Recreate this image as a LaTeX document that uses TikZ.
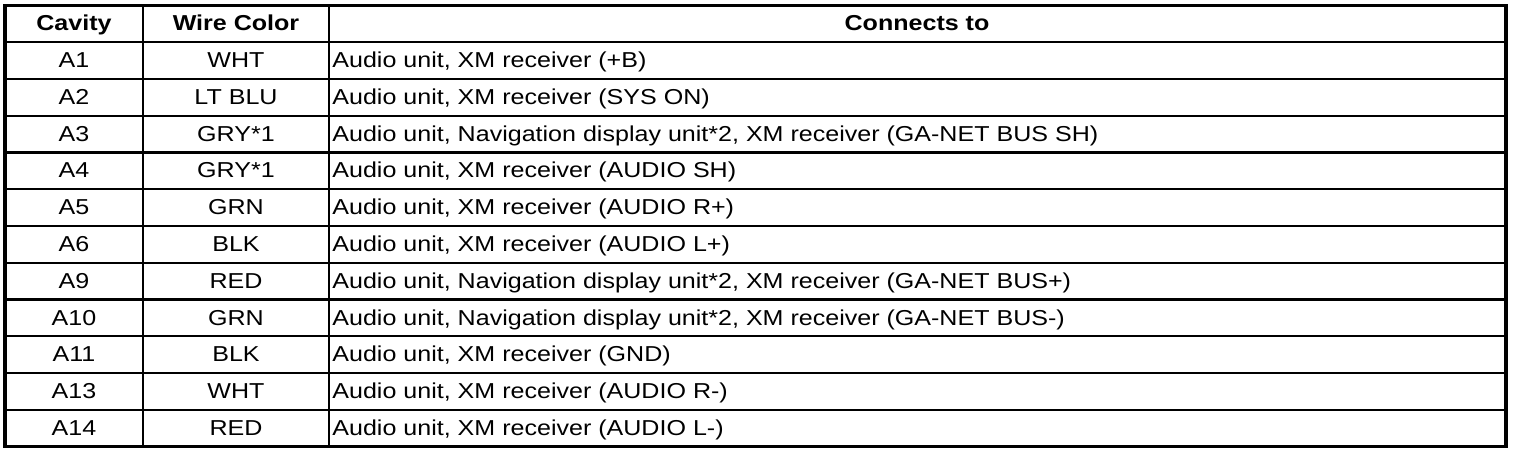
\documentclass[tikz,border=0pt]{standalone}
\usepackage{fontspec}
\setmainfont{Liberation Sans}[FakeStretch=1.16]
\usetikzlibrary{positioning}

\begin{document}
\begin{tikzpicture}[x=0.5pt, y=-0.5pt, font=\fontsize{10.8}{13}\selectfont,
    cell/.style={inner sep=0pt, anchor=base},
    entry/.style={inner sep=0pt, anchor=base west},
    head/.style={cell, font=\fontsize{10.8}{13}\selectfont\bfseries},
    rule/.style={line width=1.1pt},
    frame/.style={line width=1.8pt}]
    \useasboundingbox (0,0) rectangle (1520,454);

    % grid
    \foreach \k in {1,...,11}
        \draw[rule] (5,{5.5+36.75*\k}) -- (1506,{5.5+36.75*\k});
    \draw[rule] (143,5.5) -- (143,446.5);
    \draw[rule] (329,5.5) -- (329,446.5);
    \draw[frame] (5,5.5) rectangle (1506,446.5);

    % header
    \node(hcav) [head] at (74,31) {Cavity};
    \node(hwire) [head] at (236,31) {Wire Color};
    \node(hconn) [head] at (917,31) {Connects to};

    % rows
    \node(c1) [cell] at (74,67.75) {A1};
    \node(w1) [cell] at (236,67.75) {WHT};
    \node(t1) [entry] at (332,67.75) {Audio unit, XM receiver (+B)};
    \node(c2) [cell] at (74,104.5) {A2};
    \node(w2) [cell] at (236,104.5) {LT BLU};
    \node(t2) [entry] at (332,104.5) {Audio unit, XM receiver (SYS ON)};
    \node(c3) [cell] at (74,141.25) {A3};
    \node(w3) [cell] at (236,141.25) {GRY*1};
    \node(t3) [entry] at (332,141.25) {Audio unit, Navigation display unit*2, XM receiver (GA-NET BUS SH)};
    \node(c4) [cell] at (74,178) {A4};
    \node(w4) [cell] at (236,178) {GRY*1};
    \node(t4) [entry] at (332,178) {Audio unit, XM receiver (AUDIO SH)};
    \node(c5) [cell] at (74,214.75) {A5};
    \node(w5) [cell] at (236,214.75) {GRN};
    \node(t5) [entry] at (332,214.75) {Audio unit, XM receiver (AUDIO R+)};
    \node(c6) [cell] at (74,251.5) {A6};
    \node(w6) [cell] at (236,251.5) {BLK};
    \node(t6) [entry] at (332,251.5) {Audio unit, XM receiver (AUDIO L+)};
    \node(c7) [cell] at (74,288.25) {A9};
    \node(w7) [cell] at (236,288.25) {RED};
    \node(t7) [entry] at (332,288.25) {Audio unit, Navigation display unit*2, XM receiver (GA-NET BUS+)};
    \node(c8) [cell] at (74,325) {A10};
    \node(w8) [cell] at (236,325) {GRN};
    \node(t8) [entry] at (332,325) {Audio unit, Navigation display unit*2, XM receiver (GA-NET BUS-)};
    \node(c9) [cell] at (74,361.75) {A11};
    \node(w9) [cell] at (236,361.75) {BLK};
    \node(t9) [entry] at (332,361.75) {Audio unit, XM receiver (GND)};
    \node(c10) [cell] at (74,398.5) {A13};
    \node(w10) [cell] at (236,398.5) {WHT};
    \node(t10) [entry] at (332,398.5) {Audio unit, XM receiver (AUDIO R-)};
    \node(c11) [cell] at (74,435.25) {A14};
    \node(w11) [cell] at (236,435.25) {RED};
    \node(t11) [entry] at (332,435.25) {Audio unit, XM receiver (AUDIO L-)};
\end{tikzpicture}
\end{document}
